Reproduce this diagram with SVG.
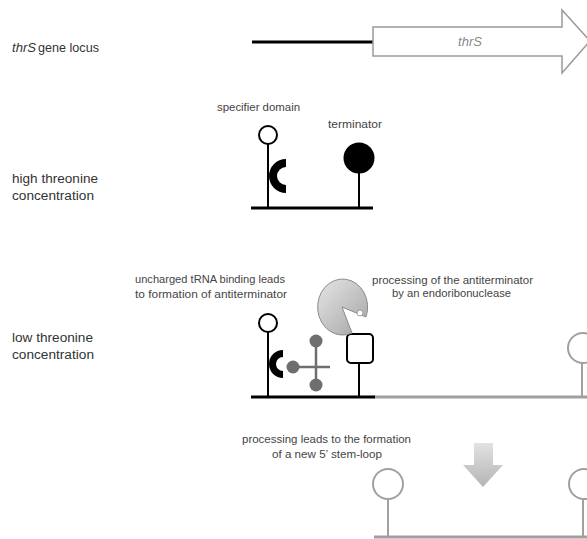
<svg xmlns="http://www.w3.org/2000/svg" width="587" height="539" viewBox="0 0 587 539">
  <defs>
    <linearGradient id="enzymeFill" x1="0" y1="0" x2="1" y2="1">
      <stop offset="0" stop-color="#e6e6e6"/>
      <stop offset="1" stop-color="#a4a4a4"/>
    </linearGradient>
    <linearGradient id="downFill" x1="0" y1="0" x2="0" y2="1">
      <stop offset="0" stop-color="#e2e2e2"/>
      <stop offset="1" stop-color="#b4b4b4"/>
    </linearGradient>
  </defs>
  <style>
    .label { font-family: "Liberation Sans", Arial, sans-serif; fill: #333; }
    .side { font-size: 12.5px; }
    .note { font-size: 10.5px; fill: #444; }
    .rna { stroke: #000; stroke-width: 3; fill: none; }
    .rnaGrey { stroke: #a0a0a0; stroke-width: 3; fill: none; }
    .stem { stroke: #000; stroke-width: 2; fill: none; }
    .stemGrey { stroke: #a0a0a0; stroke-width: 2; fill: none; }
    .loop { stroke: #000; stroke-width: 2; fill: #fff; }
    .loopGrey { stroke: #a0a0a0; stroke-width: 2; fill: #fff; }
    .trna { stroke: #6e6e6e; stroke-width: 2.5; fill: none; }
    .trnaBall { fill: #6e6e6e; }
  </style>

  <!-- Row labels -->
  <g id="row-labels">
    <text class="label side" x="12" y="52" font-style="italic" textLength="24" lengthAdjust="spacingAndGlyphs">thrS</text>
    <text class="label side" x="38" y="52" textLength="61" lengthAdjust="spacingAndGlyphs">gene locus</text>
    <text class="label side" x="12" y="183" textLength="86" lengthAdjust="spacingAndGlyphs">high threonine</text>
    <text class="label side" x="12" y="200" textLength="82" lengthAdjust="spacingAndGlyphs">concentration</text>
    <text class="label side" x="12" y="342" textLength="81" lengthAdjust="spacingAndGlyphs">low threonine</text>
    <text class="label side" x="12" y="359" textLength="82" lengthAdjust="spacingAndGlyphs">concentration</text>
  </g>

  <!-- Gene locus: upstream region and thrS coding arrow -->
  <g id="gene-locus">
    <line class="rna" x1="252" y1="42" x2="373" y2="42"/>
    <path d="M373,27 L562,27 L562,10 L590,41 L562,73 L562,56 L373,56 Z" fill="#fff" stroke="#9a9a9a" stroke-width="1.5"/>
    <text x="470" y="46" text-anchor="middle" font-family="Liberation Sans, Arial, sans-serif" font-size="13" font-style="italic" fill="#888">thrS</text>
  </g>

  <!-- High threonine: specifier domain and terminator -->
  <g id="high-threonine">
    <line class="rna" x1="251" y1="208" x2="373" y2="208"/>
    <line class="stem" x1="268" y1="144" x2="268" y2="208"/>
    <circle class="loop" cx="268" cy="135" r="9"/>
    <path d="M286,159 A17,17 0 0,0 286,193 L286,185 A9,9 0 0,1 286,167 Z" fill="#000"/>
    <line class="stem" x1="359" y1="170" x2="359" y2="208"/>
    <circle cx="359" cy="158" r="15.5" fill="#000"/>
    <text class="label note" x="217" y="111" textLength="83" lengthAdjust="spacingAndGlyphs">specifier domain</text>
    <text class="label note" x="328" y="128" textLength="54" lengthAdjust="spacingAndGlyphs">terminator</text>
  </g>

  <!-- Low threonine: tRNA-bound antiterminator and endoribonuclease -->
  <g id="low-threonine">
    <line class="rnaGrey" x1="374" y1="397" x2="587" y2="397"/>
    <line class="rna" x1="251" y1="397" x2="375" y2="397"/>
    <line class="stem" x1="268" y1="332" x2="268" y2="397"/>
    <circle class="loop" cx="268" cy="323" r="9"/>
    <path d="M283,350 A14,14 0 0,0 283,378 L283,371 A7,7 0 0,1 283,357 Z" fill="#000"/>
    <text class="label note" x="135" y="283" textLength="150" lengthAdjust="spacingAndGlyphs">uncharged tRNA binding leads</text>
    <text class="label note" x="135" y="298" textLength="152" lengthAdjust="spacingAndGlyphs">to formation of antiterminator</text>
  </g>

  <g id="trna">
    <line class="trna" x1="293" y1="367" x2="330" y2="367"/>
    <line class="trna" x1="316" y1="341" x2="316" y2="385"/>
    <circle class="trnaBall" cx="293" cy="367" r="6.5"/>
    <circle class="trnaBall" cx="316" cy="341" r="6.5"/>
    <circle class="trnaBall" cx="316" cy="385" r="6.5"/>
  </g>

  <g id="antiterminator">
    <line class="stem" x1="359" y1="362" x2="359" y2="397"/>
    <rect x="347" y="334" width="26" height="29" rx="4" fill="#fff" stroke="#000" stroke-width="2"/>
  </g>

  <g id="endoribonuclease">
    <path d="M342,307 L366,317 A25,28 0 1,0 352,333 Z" fill="url(#enzymeFill)" stroke="#8a8a8a" stroke-width="1"/>
    <circle cx="360" cy="313" r="3" fill="#fff" stroke="#8a8a8a" stroke-width="0.8"/>
    <text class="label note" x="372" y="284" textLength="161" lengthAdjust="spacingAndGlyphs">processing of the antiterminator</text>
    <text class="label note" x="392" y="297" textLength="119" lengthAdjust="spacingAndGlyphs">by an endoribonuclease</text>
  </g>

  <g id="downstream-terminator">
    <line class="stemGrey" x1="582" y1="363" x2="582" y2="397"/>
    <circle class="loopGrey" cx="583" cy="348" r="15"/>
  </g>

  <!-- Processed transcript with new 5' stem-loop -->
  <g id="processed-rna">
    <line class="rnaGrey" x1="374" y1="537" x2="587" y2="537"/>
    <line class="stemGrey" x1="388" y1="499" x2="388" y2="537"/>
    <circle class="loopGrey" cx="388" cy="484" r="15"/>
    <line class="stemGrey" x1="583" y1="499" x2="583" y2="537"/>
    <circle class="loopGrey" cx="584" cy="484" r="15"/>
    <text class="label note" x="242" y="443" textLength="169" lengthAdjust="spacingAndGlyphs">processing leads to the formation</text>
    <text class="label note" x="272" y="458" textLength="110" lengthAdjust="spacingAndGlyphs">of a new 5’ stem-loop</text>
  </g>

  <g id="connectors">
    <path d="M474,443 L493,443 L493,465 L503,465 L483,487 L463,465 L474,465 Z" fill="url(#downFill)"/>
  </g>
</svg>
